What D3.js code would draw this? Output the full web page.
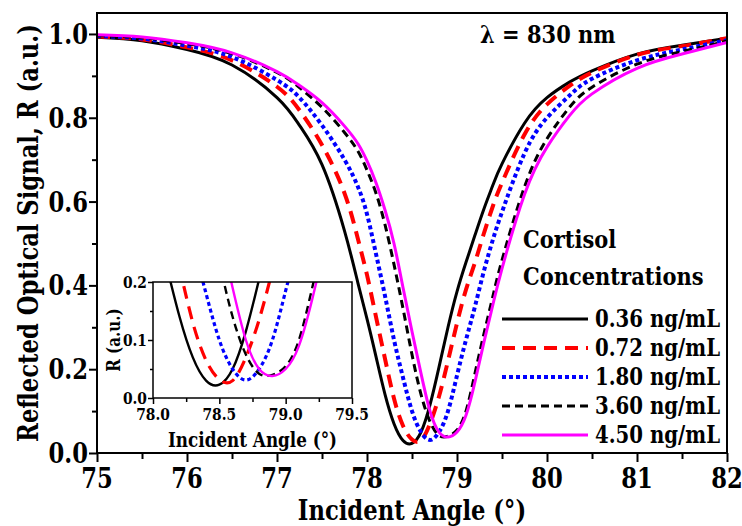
<!DOCTYPE html>
<html>
<head>
<meta charset="utf-8">
<script src="https://cdn.jsdelivr.net/npm/d3@7"></script>
</head>
<body style="margin:0">
<div id="spr-chart"></div>
<script>
// Incident angles (deg) shared by all curves
const angles = [75, 75.5, 76, 76.5, 77, 77.25, 77.5, 77.75, 77.9, 78.0,
    78.1, 78.2, 78.3, 78.4, 78.5, 78.6, 78.7, 78.8, 78.9, 79.0,
    79.1, 79.2, 79.3, 79.4, 79.5, 79.75, 80.0, 80.25, 80.5, 81.0, 81.5, 82.0];

// Reflected signal R for each cortisol concentration
const r036 = [0.992, 0.984, 0.963, 0.926, 0.848, 0.782, 0.688, 0.53, 0.405, 0.32,
    0.23, 0.14, 0.07, 0.03, 0.023, 0.05, 0.115, 0.205, 0.30, 0.385,
    0.455, 0.52, 0.583, 0.64, 0.69, 0.787, 0.848, 0.885, 0.912, 0.952, 0.973, 0.99];
const r072 = [0.994, 0.987, 0.968, 0.937, 0.874, 0.818, 0.735, 0.62, 0.51, 0.425,
    0.325, 0.225, 0.13, 0.065, 0.032, 0.03, 0.07, 0.135, 0.22, 0.31,
    0.39, 0.455, 0.525, 0.59, 0.645, 0.76, 0.832, 0.876, 0.908, 0.95, 0.971, 0.99];
const r180 = [0.995, 0.989, 0.972, 0.945, 0.89, 0.848, 0.782, 0.70, 0.635, 0.57,
    0.475, 0.375, 0.27, 0.18, 0.10, 0.05, 0.031, 0.05, 0.10, 0.185,
    0.27, 0.35, 0.435, 0.51, 0.575, 0.715, 0.80, 0.853, 0.893, 0.937, 0.963, 0.985];
const r360 = [0.996, 0.991, 0.977, 0.953, 0.908, 0.872, 0.825, 0.765, 0.72, 0.675,
    0.62, 0.545, 0.45, 0.345, 0.235, 0.14, 0.075, 0.042, 0.04, 0.055,
    0.10, 0.19, 0.285, 0.375, 0.46, 0.635, 0.75, 0.825, 0.873, 0.928, 0.958, 0.983];
const r450 = [0.998, 0.993, 0.979, 0.955, 0.91, 0.877, 0.836, 0.78, 0.738, 0.697,
    0.645, 0.58, 0.50, 0.395, 0.29, 0.19, 0.10, 0.05, 0.038, 0.05,
    0.09, 0.17, 0.265, 0.355, 0.44, 0.617, 0.73, 0.805, 0.857, 0.918, 0.952, 0.98];

const seriesLabels = ["0.36 ng/mL", "0.72 ng/mL", "1.80 ng/mL", "3.60 ng/mL", "4.50 ng/mL"];

// Tick values
const xTicks = [75, 76, 77, 78, 79, 80, 81, 82];
const yTicks = [0, 0.2, 0.4, 0.6, 0.8, 1.0];
const insetXTicks = [78.0, 78.5, 79.0, 79.5];
const insetYTicks = [0, 0.1, 0.2];

(function () {
    const containerWidth = 742;
    const containerHeight = 526;
    const margin = { top: 13, right: 15, bottom: 73, left: 97 };
    const width = containerWidth - margin.left - margin.right;
    const height = containerHeight - margin.top - margin.bottom;
    const squeeze = 0.84; // narrow the serif glyphs towards a Times-like width

    const svgRoot = d3.select("#spr-chart")
        .append("svg")
        .attr("width", containerWidth)
        .attr("height", containerHeight);

    // helper: bold serif text placed with a transform (optionally rotated)
    function addText(parent, size, x, y, anchor, rotate) {
        const rot = rotate ? ` rotate(${rotate})` : "";
        return parent.append("text")
            .attr("transform", `translate(${x},${y})${rot} scale(${squeeze},1)`)
            .attr("text-anchor", anchor || "start")
            .attr("font-family", "DejaVu Serif")
            .attr("font-weight", "bold")
            .attr("font-size", size)
            .attr("fill", "#000");
    }

    const svg = svgRoot.append("g")
        .attr("transform", `translate(${margin.left},${margin.top})`);

    // Line styles per series
    const styles = [
        { color: "#000000", width: 3, dash: null },
        { color: "#ff0000", width: 4, dash: "13,8" },
        { color: "#0000ff", width: 4, dash: "4,3" },
        { color: "#000000", width: 3, dash: "8,5" },
        { color: "#ff00ff", width: 3, dash: null },
    ];
    const seriesValues = [r036, r072, r180, r360, r450];
    const series = seriesValues.map((vals, i) => ({
        label: seriesLabels[i],
        style: styles[i],
        points: angles.map((a, j) => ({ a: a, r: vals[j] })),
    }));

    // Scales
    const xScale = d3.scaleLinear().domain([75, 82]).range([0, width]);
    const yScale = d3.scaleLinear().domain([0, 1.05]).range([height, 0]);

    const line = d3.line()
        .x((d) => xScale(d.a))
        .y((d) => yScale(d.r))
        .curve(d3.curveNatural);

    const defs = svgRoot.append("defs");
    defs.append("clipPath")
        .attr("id", "main-clip")
        .append("rect")
        .attr("width", width)
        .attr("height", height);

    // Curves
    svg.append("g")
        .attr("clip-path", "url(#main-clip)")
        .selectAll("path")
        .data(series)
        .enter()
        .append("path")
        .attr("d", (d) => line(d.points))
        .attr("fill", "none")
        .attr("stroke", (d) => d.style.color)
        .attr("stroke-width", (d) => d.style.width)
        .attr("stroke-dasharray", (d) => d.style.dash);

    // Ticks drawn from the axis generators, labels written as own text
    const xMinor = d3.range(75.5, 82, 1);
    const yMinor = d3.range(0.1, 1.05, 0.2);

    svg.append("g")
        .attr("transform", `translate(0,${height})`)
        .call(d3.axisBottom(xScale).tickValues(xTicks).tickSize(9).tickFormat(""));
    svg.append("g")
        .attr("transform", `translate(0,${height})`)
        .call(d3.axisBottom(xScale).tickValues(xMinor).tickSize(6).tickFormat(""));
    svg.append("g")
        .call(d3.axisLeft(yScale).tickValues(yTicks).tickSize(8).tickFormat(""));
    svg.append("g")
        .call(d3.axisLeft(yScale).tickValues(yMinor).tickSize(5).tickFormat(""));

    svg.selectAll(".domain").remove();
    svg.selectAll(".tick line").attr("stroke", "#000").attr("stroke-width", 2);

    xTicks.forEach((t) => {
        addText(svg, 27, xScale(t), height + 35, "middle").text(d3.format("d")(t));
    });
    yTicks.forEach((t) => {
        addText(svg, 27, -9, yScale(t) + 10, "end").text(d3.format(".1f")(t));
    });

    // Frame
    svg.append("rect")
        .attr("width", width)
        .attr("height", height)
        .attr("fill", "none")
        .attr("stroke", "#000")
        .attr("stroke-width", 2);

    // Axis titles
    addText(svgRoot, 27, margin.left + width / 2, 520, "middle").text("Incident Angle (°)");
    addText(svgRoot, 27, 38, margin.top + height / 2, "middle", -90).text("Reflected Optical Signal, R (a.u.)");

    // Wavelength note
    addText(svgRoot, 25, 480, 43).text("λ = 830 nm");

    // Legend
    addText(svgRoot, 25, 523, 248).text("Cortisol");
    addText(svgRoot, 25, 523, 285).text("Concentrations");

    series.forEach((s, i) => {
        const yy = 327 + i * 29;
        svgRoot.append("line")
            .attr("x1", 502)
            .attr("x2", 588)
            .attr("y1", yy - 8)
            .attr("y2", yy - 8)
            .attr("stroke", s.style.color)
            .attr("stroke-width", s.style.width)
            .attr("stroke-dasharray", s.style.dash);
        addText(svgRoot, 23.5, 595, yy).text(s.label);
    });

    // ---- Inset: zoom on the resonance dips ----
    const inset = { left: 153, top: 282, width: 199, height: 116 };
    const ig = svgRoot.append("g")
        .attr("transform", `translate(${inset.left},${inset.top})`);

    const ix = d3.scaleLinear().domain([78.0, 79.5]).range([0, inset.width]);
    const iy = d3.scaleLinear().domain([0, 0.2]).range([inset.height, 0]);

    const iline = d3.line()
        .x((d) => ix(d.a))
        .y((d) => iy(d.r))
        .curve(d3.curveNatural);

    ig.append("rect")
        .attr("width", inset.width)
        .attr("height", inset.height)
        .attr("fill", "#fff");

    defs.append("clipPath")
        .attr("id", "inset-clip")
        .append("rect")
        .attr("width", inset.width)
        .attr("height", inset.height);

    ig.append("g")
        .attr("clip-path", "url(#inset-clip)")
        .selectAll("path")
        .data(series)
        .enter()
        .append("path")
        .attr("d", (d) => iline(d.points))
        .attr("fill", "none")
        .attr("stroke", (d) => d.style.color)
        .attr("stroke-width", (d) => d.style.width * 0.8)
        .attr("stroke-dasharray", (d) => d.style.dash);

    const ixMinor = [78.25, 78.75, 79.25];
    const iyMinor = [0.05, 0.15];

    ig.append("g")
        .attr("transform", `translate(0,${inset.height})`)
        .call(d3.axisBottom(ix).tickValues(insetXTicks).tickSize(6).tickFormat(""));
    ig.append("g")
        .attr("transform", `translate(0,${inset.height})`)
        .call(d3.axisBottom(ix).tickValues(ixMinor).tickSize(4).tickFormat(""));
    ig.append("g")
        .call(d3.axisLeft(iy).tickValues(insetYTicks).tickSize(5).tickFormat(""));
    ig.append("g")
        .call(d3.axisLeft(iy).tickValues(iyMinor).tickSize(3).tickFormat(""));

    ig.selectAll(".domain").remove();
    ig.selectAll(".tick line").attr("stroke", "#000").attr("stroke-width", 1.5);

    insetXTicks.forEach((t) => {
        addText(ig, 16.5, ix(t), inset.height + 22, "middle").text(d3.format(".1f")(t));
    });
    insetYTicks.forEach((t) => {
        addText(ig, 16.5, -6, iy(t) + 6, "end").text(d3.format(".1f")(t));
    });

    ig.append("rect")
        .attr("width", inset.width)
        .attr("height", inset.height)
        .attr("fill", "none")
        .attr("stroke", "#000")
        .attr("stroke-width", 1.5);

    addText(svgRoot, 20, inset.left + inset.width / 2, 447, "middle").text("Incident Angle (°)");
    addText(svgRoot, 18, 120, inset.top + inset.height / 2, "middle", -90).text("R (a.u.)");
})();
</script>
</body>
</html>
